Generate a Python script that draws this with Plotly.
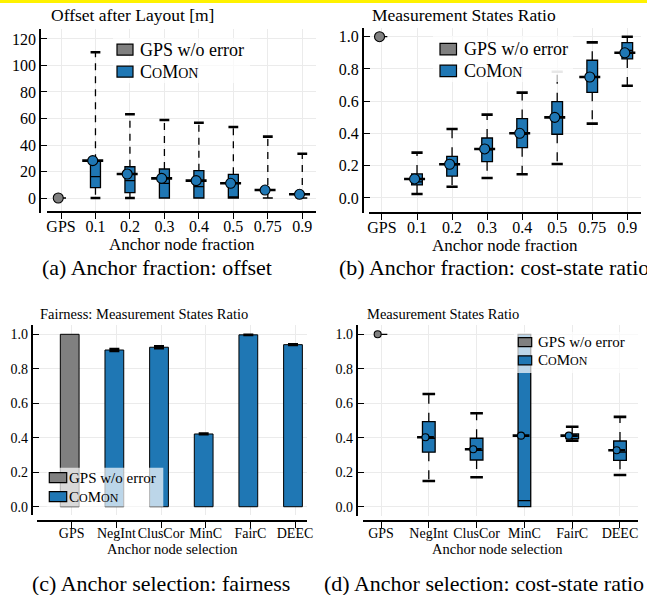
import plotly.graph_objects as go

W, H = 647, 595
def px(x): return x / W
def py(y): return 1 - y / H

FONT = "Liberation Serif, Times New Roman, serif"
GRAY = "#808080"
BLUE = "#1f77b4"
GRID = "#ebebeb"

# ---------------- data ----------------
# (a) Anchor fraction: offset after layout [m]
a_cats = ["GPS", "0.1", "0.2", "0.3", "0.4", "0.5", "0.75", "0.9"]
a_gps = 0.0
a_lo   = [0.0, 0.0, 0.0, 0.0, 0.0, 0.0, 0.0]
a_q1   = [7.8, 4.0, 0.0, 0.0, 0.0, 0.0, 0.0]
a_med  = [16.1, 13.1, 11.1, 8.6, 0.0, 0.0, 0.0]
a_q3   = [27.7, 23.6, 21.9, 20.6, 17.9, 0.0, 0.0]
a_hi   = [110.0, 63.2, 58.9, 56.8, 53.6, 46.3, 33.4]
a_mean = [28.2, 18.1, 14.8, 13.1, 11.1, 6.0, 2.8]
a_yticks = [0, 20, 40, 60, 80, 100, 120]

# (b) Anchor fraction: measurement states ratio
b_cats = a_cats
b_gps = 1.0
b_lo   = [0.025, 0.070, 0.124, 0.147, 0.211, 0.461, 0.696]
b_q1   = [0.081, 0.136, 0.225, 0.312, 0.395, 0.655, 0.862]
b_med  = [0.100, 0.205, 0.298, 0.395, 0.500, 0.752, 0.915]
b_q3   = [0.149, 0.258, 0.372, 0.492, 0.597, 0.854, 0.963]
b_hi   = [0.281, 0.428, 0.517, 0.653, 0.783, 0.965, 1.000]
b_mean = [0.118, 0.209, 0.304, 0.401, 0.500, 0.750, 0.900]
b_yticks = [0.0, 0.2, 0.4, 0.6, 0.8, 1.0]

# (c) Anchor selection: fairness
c_cats = ["GPS", "NegInt", "ClusCor", "MinC", "FairC", "DEEC"]
c_gps = 1.0
c_vals = [0.909, 0.925, 0.422, 0.997, 0.940]
c_err  = [0.006, 0.006, 0.003, 0.002, 0.003]

# (d) Anchor selection: measurement states ratio
d_cats = c_cats
d_gps = 1.0
d_lo   = [0.149, 0.171, 0.000, 0.383, 0.184]
d_q1   = [0.316, 0.271, 0.000, 0.395, 0.269]
d_med  = [0.397, 0.327, 0.035, 0.410, 0.316]
d_q3   = [0.493, 0.397, 1.000, 0.422, 0.381]
d_hi   = [0.654, 0.542, 1.000, 0.464, 0.521]
d_mean = [0.403, 0.333, 0.412, 0.412, 0.327]

fig = go.Figure()

def axis_pair(n, xd, xline, yd, yline, xr, yr, cats, yticks, ytext, tfont):
    sfx = "" if n == 1 else str(n)
    xa = dict(domain=[px(xd[0]), px(xd[1])], anchor="free", position=py(xline), range=xr,
              tickmode="array", tickvals=list(range(len(cats))), ticktext=cats, tickangle=0,
              showline=True, linecolor="black", linewidth=1.6,
              ticks="outside", ticklen=6, tickwidth=1.3, tickcolor="black",
              ticklabelstandoff=-6,
              showgrid=True, gridcolor=GRID, gridwidth=1, zeroline=False,
              tickfont=dict(family=FONT, size=tfont, color="black"),
              automargin=False, fixedrange=True)
    ya = dict(domain=[py(yd[1]), py(yd[0])], anchor="free", position=px(yline), range=yr,
              tickmode="array", tickvals=yticks, ticktext=ytext,
              showline=True, linecolor="black", linewidth=1.6,
              ticks="inside", ticklen=6, tickwidth=1.3, tickcolor="black",
              showgrid=True, gridcolor=GRID, gridwidth=1, zeroline=False,
              tickfont=dict(family=FONT, size=tfont, color="black"),
              automargin=False, fixedrange=True)
    fig.update_layout(**{"xaxis" + sfx: xa, "yaxis" + sfx: ya})
    return ("x" + sfx, "y" + sfx)

def boxes(xa, ya, gps, lo, q1, med, q3, hi, mean, bw, dash, cap, dot, moff, capcolors=None):
    n = len(q1)
    xs = list(range(1, n + 1))
    fig.add_trace(go.Box(x=[0], q1=[gps], median=[gps], q3=[gps], lowerfence=[gps], upperfence=[gps],
                         width=bw, fillcolor=GRAY, line=dict(color="black", width=1.3), whiskerwidth=0,
                         boxpoints=False, xaxis=xa, yaxis=ya, hoverinfo="skip"))
    fig.add_trace(go.Box(x=xs, q1=q1, median=med, q3=q3, lowerfence=q1, upperfence=q3,
                         width=bw, fillcolor=BLUE, line=dict(color="black", width=1.3), whiskerwidth=0,
                         boxpoints=False, xaxis=xa, yaxis=ya, hoverinfo="skip"))
    wx, wy, cx, cy, cc = [], [], [], [], []
    for i in range(n):
        if hi[i] > q3[i]:
            wx += [xs[i], xs[i], None]; wy += [q3[i], hi[i], None]
            cx.append(xs[i]); cy.append(hi[i])
            cc.append(capcolors[i] if capcolors else "black")
        if lo[i] < q1[i]:
            wx += [xs[i], xs[i], None]; wy += [q1[i], lo[i], None]
            cx.append(xs[i]); cy.append(lo[i]); cc.append("black")
    fig.add_trace(go.Scatter(x=wx, y=wy, mode="lines", line=dict(color="black", width=1.3, dash=dash),
                             xaxis=xa, yaxis=ya, hoverinfo="skip", connectgaps=False))
    fig.add_trace(go.Scatter(x=cx, y=cy, mode="markers",
                             marker=dict(symbol="line-ew", size=cap, line=dict(color=cc, width=2.6)),
                             xaxis=xa, yaxis=ya, hoverinfo="skip"))
    mx = [0 - moff] + [x - moff for x in xs]
    my = [gps] + list(mean)
    fig.add_trace(go.Scatter(x=mx[1:], y=my[1:], mode="markers",
                             marker=dict(symbol="line-ew", size=dot + 5, line=dict(color="black", width=2.6)),
                             xaxis=xa, yaxis=ya, hoverinfo="skip"))
    fig.add_trace(go.Scatter(x=mx, y=my, mode="markers",
                             marker=dict(symbol="circle", size=dot, color=[GRAY] + [BLUE] * n,
                                         line=dict(color="black", width=1.1)),
                             xaxis=xa, yaxis=ya, hoverinfo="skip"))

# ---------------- panel (a) ----------------
xa, ya = axis_pair(1, (46.7, 316), 212.3, (29.3, 213), 40, (-0.415, 7.398), (-11.3, 127.3),
                   a_cats, a_yticks, [str(v) for v in a_yticks], 16)
boxes(xa, ya, a_gps, a_lo, a_q1, a_med, a_q3, a_hi, a_mean, 0.29, "7px,6px", 7, 10, 0.08)

# ---------------- panel (b) ----------------
xa, ya = axis_pair(2, (369.3, 640.7), 213.3, (28.3, 213.3), 362.7, (-0.362, 7.383), (-0.095, 1.052),
                   b_cats, b_yticks, [f"{v:.1f}" for v in b_yticks], 16)
capc = ["black"] * 7
capc[4] = "#b0b0b0"
boxes(xa, ya, b_gps, b_lo, b_q1, b_med, b_q3, b_hi, b_mean, 0.305, "9px,9px", 8, 10, 0.07, capc)

# ---------------- panel (c) ----------------
xa, ya = axis_pair(3, (36.7, 306.7), 520.7, (325, 515), 31.7, (-0.784, 5.262), (-0.048, 1.054),
                   c_cats, b_yticks, [f"{v:.1f}" for v in b_yticks], 14)
fig.add_trace(go.Bar(x=[0], y=[c_gps], width=0.42, offset=-0.255,
                     marker=dict(color=GRAY, line=dict(color="black", width=1)),
                     xaxis=xa, yaxis=ya, hoverinfo="skip"))
fig.add_trace(go.Bar(x=list(range(1, 6)), y=c_vals, width=0.42, offset=-0.255,
                     marker=dict(color=BLUE, line=dict(color="black", width=1)),
                     error_y=dict(type="data", array=c_err, color="black", thickness=2.2, width=5),
                     xaxis=xa, yaxis=ya, hoverinfo="skip"))

# ---------------- panel (d) ----------------
xa, ya = axis_pair(4, (362.7, 638.3), 520.7, (325, 516), 356.7, (-0.383, 5.383), (-0.054, 1.054),
                   d_cats, b_yticks, [f"{v:.1f}" for v in b_yticks], 14)
boxes(xa, ya, d_gps, d_lo, d_q1, d_med, d_q3, d_hi, d_mean, 0.265, "9px,9px", 9, 7, 0.07)

# ---------------- legends, titles, captions ----------------
shapes = [dict(type="rect", xref="paper", yref="paper", x0=0, x1=1, y0=py(3), y1=1,
               fillcolor="#fff200", line=dict(width=0), layer="above")]
ann = []

def comon(fs):
    s = round(fs * 0.78)
    return f"C<span style='font-size:{s}px'>O</span>M<span style='font-size:{s}px'>ON</span>"

def legend(bg, sx, sw, ys, sh, tx, fs):
    shapes.append(dict(type="rect", xref="paper", yref="paper", x0=px(bg[0]), x1=px(bg[1]),
                       y0=py(bg[3]), y1=py(bg[2]), fillcolor="rgba(255,255,255,0.7)",
                       line=dict(width=0), layer="above"))
    for yc, col, txt in zip(ys, [GRAY, BLUE], ["GPS w/o error", comon(fs)]):
        shapes.append(dict(type="rect", xref="paper", yref="paper", x0=px(sx), x1=px(sx + sw),
                           y0=py(yc + sh / 2), y1=py(yc - sh / 2), fillcolor=col,
                           line=dict(color="black", width=1.2), layer="above"))
        ann.append(dict(x=px(tx), y=py(yc), xref="paper", yref="paper", text=txt, showarrow=False,
                        xanchor="left", yanchor="middle", font=dict(family=FONT, size=fs, color="black")))

legend((113, 250, 38, 83), 117, 16, (49.7, 71.7), 11, 138, 18)
legend((433, 573, 36, 82), 440, 16.5, (49.2, 70.9), 11.5, 462, 18)
legend((46.7, 163.3, 467.7, 506.7), 49.3, 17.4, (477.7, 496.7), 10, 67, 15)
legend((514, 640, 332, 373), 518.3, 13.4, (342.2, 360.3), 9, 536, 15)

def text(x, y, t, fs, anchor="left"):
    ann.append(dict(x=px(x), y=py(y), xref="paper", yref="paper", text=t, showarrow=False,
                    xanchor=anchor, yanchor="middle", font=dict(family=FONT, size=fs, color="black")))

text(49, 15, "Offset after Layout [m]", 17.5)
text(370, 15, "Measurement States Ratio", 17.5)
text(38, 314, "Fairness: Measurement States Ratio", 14.5)
text(365, 314, "Measurement States Ratio", 14.5)
text(182, 244.5, "Anchor node fraction", 17, "center")
text(505, 245, "Anchor node fraction", 17, "center")
text(172, 549, "Anchor node selection", 14.5, "center")
text(497.5, 549, "Anchor node selection", 14.5, "center")
text(40, 267, "(a) Anchor fraction: offset", 22)
text(337, 267, "(b) Anchor fraction: cost-state ratio", 22)
text(30, 583, "(c) Anchor selection: fairness", 22)
text(322, 583, "(d) Anchor selection: cost-state ratio", 22)

fig.update_layout(width=W, height=H, margin=dict(l=0, r=0, t=0, b=0),
                  paper_bgcolor="white", plot_bgcolor="white", showlegend=False,
                  boxmode="overlay", barmode="overlay",
                  shapes=shapes, annotations=ann)
fig.write_html("out.html", config={"displayModeBar": False},
               post_script="document.body.style.margin='0px';")
